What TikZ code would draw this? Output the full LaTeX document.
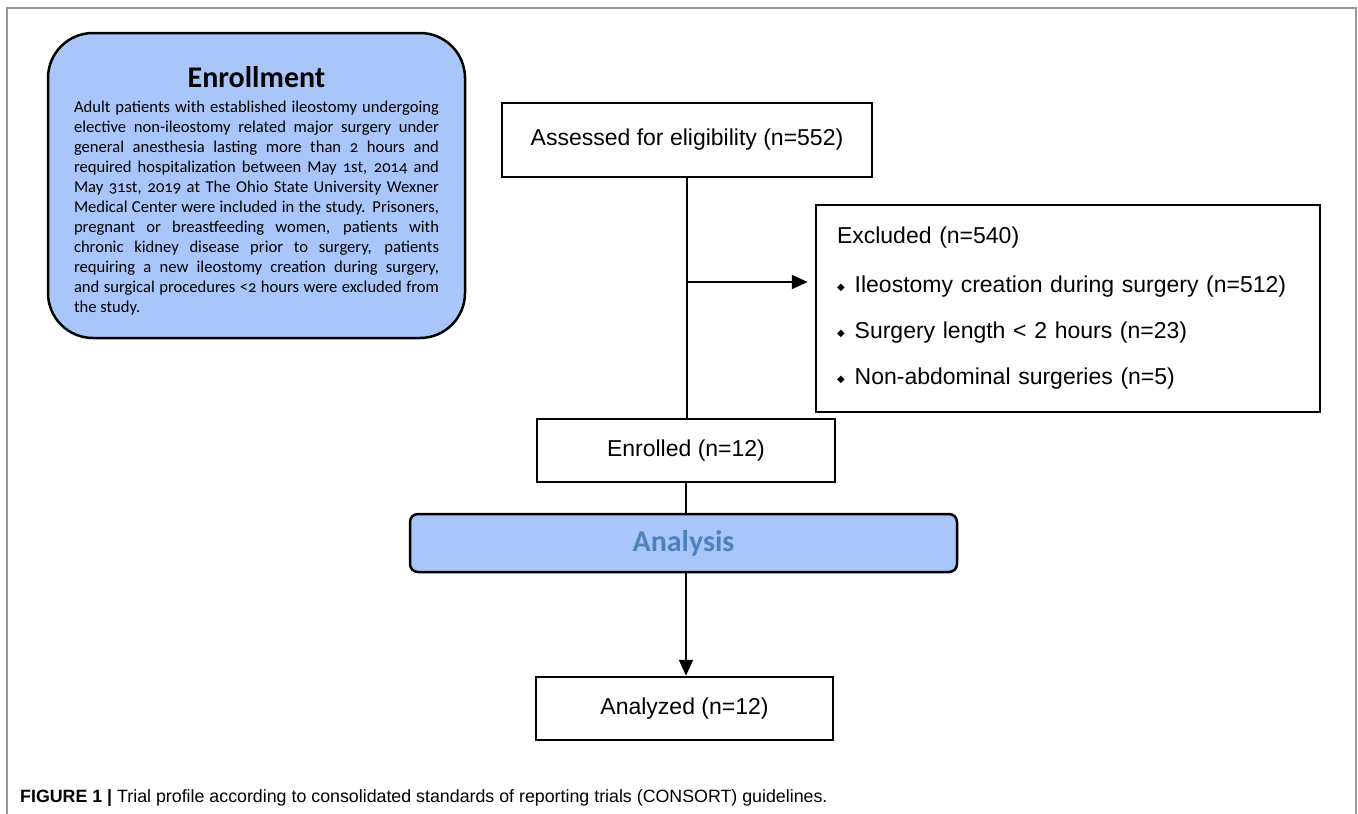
\documentclass[tikz,border=0pt]{standalone}
\usepackage{fontspec}
\setmainfont{Liberation Sans}
\newfontfamily\candara[Numbers=OldStyle]{Carlito}
\newfontfamily\symbolfont{DejaVu Sans}
\usetikzlibrary{arrows.meta}

\definecolor{boxBlue}{RGB}{168,198,250}
\definecolor{headBlue}{RGB}{79,129,189}
\definecolor{frameGray}{RGB}{150,150,150}

\newcommand{\fullLine}[1]{\makebox[365pt][s]{#1}}
\newcommand{\diamondItem}{\raisebox{2pt}{\symbolfont\fontsize{10}{10}\selectfont ◆}\hspace{10pt}}

\begin{document}
\begin{tikzpicture}[x = 1pt,y = -1pt,
    flowBox/.style = {draw,line width = 2.5pt,fill = white,inner sep = 0pt,font = \fontsize{23}{28}\selectfont},
    blueBox/.style = {draw,line width = 2.5pt,fill = boxBlue,inner sep = 0pt},
    link/.style = {line width = 2pt},
    arrowLink/.style = {line width = 2pt,-{Triangle[length = 16pt,width = 14pt]}}]

    \useasboundingbox (0,0) rectangle (1358,814);
    \draw[frameGray,line width = 2pt] (7,814) -- (7,8) -- (1356,8) -- (1356,814);

    \node[blueBox,rounded corners = 45pt,minimum width = 417pt,minimum height = 305pt](enrollment) at (256.5,185.5) {\begin{minipage}{365pt}\centering
        {\candara\bfseries\fontsize{30}{30}\selectfont Enrollment}\par\vspace{5pt}
        {\candara\fontsize{16.6}{20}\selectfont
        \fullLine{Adult patients with established ileostomy undergoing}\\
        \fullLine{elective non-ileostomy related major surgery under}\\
        \fullLine{general anesthesia lasting more than 2 hours and}\\
        \fullLine{required hospitalization between May 1st, 2014 and}\\
        \fullLine{May 31st, 2019 at The Ohio State University Wexner}\\
        \fullLine{Medical Center were included in the study. Prisoners,}\\
        \fullLine{pregnant or breastfeeding women, patients with}\\
        \fullLine{chronic kidney disease prior to surgery, patients}\\
        \fullLine{requiring a new ileostomy creation during surgery,}\\
        \fullLine{and surgical procedures <2 hours were excluded from}\\
        \makebox[365pt][l]{the study.}\par}
        \vspace{-10pt}
    \end{minipage}};

    \node[flowBox,minimum width = 370pt,minimum height = 74pt](assessed) at (687,140) {Assessed for eligibility (n=552)};
    \node[flowBox,minimum width = 504pt,minimum height = 207pt,text width = 462pt,align = left,font = \fontsize{23}{46}\selectfont](excluded) at (1068,308.5) {Excluded (n=540)\\[3pt]
        \diamondItem Ileostomy creation during surgery (n=512)\\
        \diamondItem Surgery length < 2 hours (n=23)\\
        \diamondItem Non-abdominal surgeries (n=5)};
    \node[flowBox,minimum width = 298pt,minimum height = 63pt](enrolled) at (686,450.5) {Enrolled (n=12)};
    \node[blueBox,rounded corners = 8pt,minimum width = 547pt,minimum height = 58pt,text = headBlue,font = \candara\bfseries\fontsize{30}{30}\selectfont](analysis) at (683.5,543) {Analysis};
    \node[flowBox,minimum width = 297pt,minimum height = 63pt](analyzed) at (684.5,708.5) {Analyzed (n=12)};
    \node[anchor = base west,inner sep = 0pt,font = \fontsize{17.8}{20}\selectfont](caption) at (20,802) {\textbf{FIGURE 1 |} Trial profile according to consolidated standards of reporting trials (CONSORT) guidelines.};

    \coordinate(split) at (687,282);
    \draw[link] (assessed.south) -- (assessed.south |- enrolled.north);
    \draw[arrowLink,shorten > = 7pt] (split) -- (split -| excluded.west);
    \draw[link] (enrolled.south) -- (enrolled.south |- analysis.north);
    \draw[arrowLink] (analysis.south -| enrolled.south) -- (analyzed.north -| enrolled.south);
\end{tikzpicture}
\end{document}
